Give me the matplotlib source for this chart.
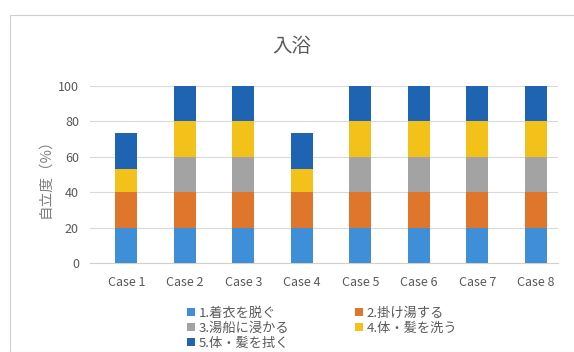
import matplotlib
matplotlib.use("Agg")
import matplotlib.pyplot as plt
import numpy as np
from matplotlib.patches import Rectangle

plt.rcParams['font.family'] = ['Noto Sans CJK JP', 'DejaVu Sans']

categories = ["Case 1", "Case 2", "Case 3", "Case 4", "Case 5", "Case 6", "Case 7", "Case 8"]
series_names = ["1.着衣を脱ぐ", "2.掛け湯する", "3.湯船に浸かる", "4.体・髪を洗う", "5.体・髪を拭く"]
s1 = [20, 20, 20, 20, 20, 20, 20, 20]
s2 = [20, 20, 20, 20, 20, 20, 20, 20]
s3 = [0, 20, 20, 0, 20, 20, 20, 20]
s4 = [13.3, 20, 20, 13.3, 20, 20, 20, 20]
s5 = [20, 20, 20, 20, 20, 20, 20, 20]
series = [s1, s2, s3, s4, s5]
colors = ["#3E8ED8", "#E0762C", "#A3A3A3", "#F2C21A", "#1F63B3"]
yticks = [0, 20, 40, 60, 80, 100]

fig = plt.figure(figsize=(5.74, 3.52), dpi=100)
fig.patch.set_facecolor("white")
fig.add_artist(Rectangle((10/574, 0), 1, 1 - 15/352, transform=fig.transFigure,
                         fill=False, edgecolor="#CFCFCF", linewidth=0.8))
ax = fig.add_axes([90/574, 1 - 263/352, 468/574, 177/352])
x = np.arange(len(categories))
bottom = np.zeros(len(categories))
handles = []
for vals, c, name in zip(series, colors, series_names):
    h = ax.bar(x, vals, 0.38, bottom=bottom, color=c, label=name, zorder=3)
    handles.append(h)
    bottom += np.array(vals)

ax.set_ylim(0, 100)
ax.set_xlim(-0.62, 7.38)
ax.set_yticks(yticks)
ax.yaxis.grid(True, color="#D9D9D9", linewidth=0.8, zorder=0)
for s in ["top", "right", "left"]:
    ax.spines[s].set_visible(False)
ax.spines["bottom"].set_color("#D0D0D0")
ax.tick_params(axis="both", length=0, colors="#595959", labelsize=9)
ax.tick_params(axis="x", pad=9)
ax.tick_params(axis="y", pad=8)
ax.set_xticks(x)
ax.set_xticklabels(categories)
ax.set_ylabel("自立度（%）", color="#7F7F7F", fontsize=10.5, labelpad=4)
fig.text(0.5 + 10/574/2, 1 - 47/352, "入浴", ha="center", va="center", fontsize=14, color="#595959")

order = [0, 2, 4, 1, 3]
leg = fig.legend([handles[i] for i in order], [series_names[i] for i in order],
                 loc="upper left", bbox_to_anchor=(180/574, 1 - 300/352), ncol=2,
                 frameon=False, fontsize=9.5, handlelength=0.6, handleheight=0.6,
                 handletextpad=0.3, columnspacing=5.0, labelspacing=0.15,
                 labelcolor="#595959", borderpad=0)
fig.savefig("out.png", dpi=100)
